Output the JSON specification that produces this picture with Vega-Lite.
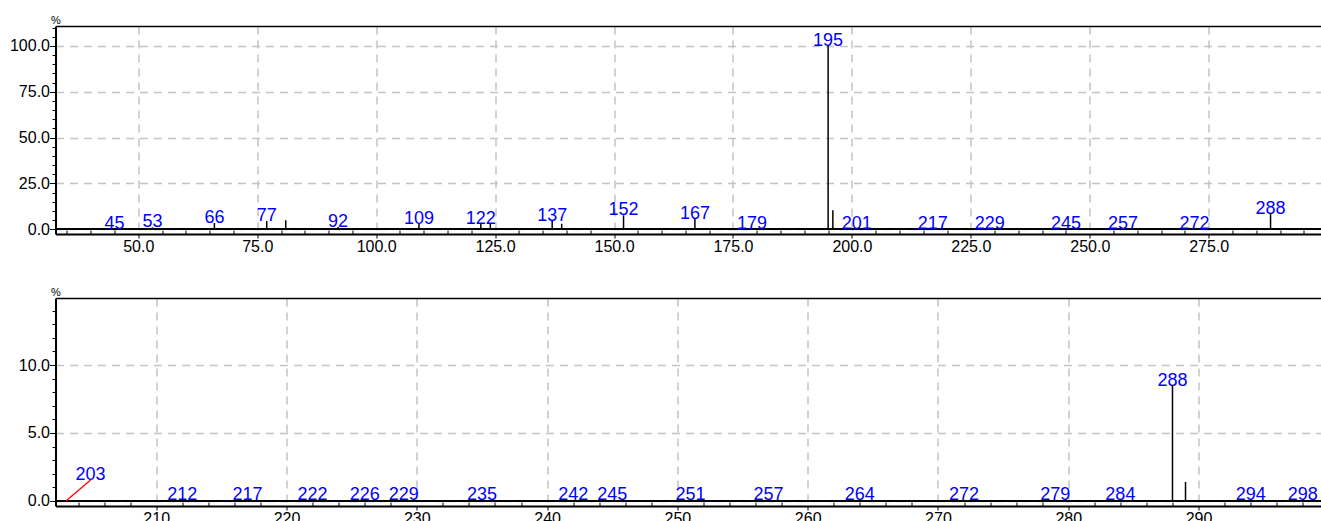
{
  "$schema": "https://vega.github.io/schema/vega-lite/v6.json",
  "padding": {"left": 8.5, "top": 14, "right": 0, "bottom": 0},
  "spacing": 64,
  "bounds": "flush",
  "config": {
    "view": {"stroke": null},
    "font": "Liberation Sans",
    "axis": {
      "labelFont": "Liberation Sans",
      "titleFont": "Liberation Sans",
      "labelColor": "#000000",
      "tickColor": "#000000",
      "domainColor": "#000000",
      "gridColor": "#c4c4c4",
      "gridDash": [8, 6],
      "gridWidth": 1.5,
      "labelFontSize": 16,
      "labelFlush": false,
      "labelOverlap": false
    }
  },
  "datasets": {
    "top": [
      {"mz": 45, "intensity": 0.2, "label": "45"},
      {"mz": 53, "intensity": 1.0, "label": "53"},
      {"mz": 66, "intensity": 3.4, "label": "66"},
      {"mz": 77, "intensity": 4.5, "label": "77"},
      {"mz": 81, "intensity": 4.9, "label": null},
      {"mz": 92, "intensity": 1.2, "label": "92"},
      {"mz": 109, "intensity": 3.1, "label": "109"},
      {"mz": 122, "intensity": 3.0, "label": "122"},
      {"mz": 124, "intensity": 3.0, "label": null},
      {"mz": 137, "intensity": 4.5, "label": "137"},
      {"mz": 139, "intensity": 3.0, "label": null},
      {"mz": 152, "intensity": 7.6, "label": "152"},
      {"mz": 167, "intensity": 5.8, "label": "167"},
      {"mz": 179, "intensity": 0.2, "label": "179"},
      {"mz": 195, "intensity": 100, "label": "195"},
      {"mz": 196, "intensity": 10.3, "label": null},
      {"mz": 201, "intensity": 0.2, "label": "201"},
      {"mz": 217, "intensity": 0.2, "label": "217"},
      {"mz": 229, "intensity": 0.2, "label": "229"},
      {"mz": 245, "intensity": 0.2, "label": "245"},
      {"mz": 257, "intensity": 0.2, "label": "257"},
      {"mz": 272, "intensity": 0.2, "label": "272"},
      {"mz": 288, "intensity": 8.4, "label": "288"}
    ],
    "bottom": [
      {"mz": 203, "intensity": 0.0, "label": null},
      {"mz": 212, "intensity": 0.05, "label": "212"},
      {"mz": 217, "intensity": 0.05, "label": "217"},
      {"mz": 222, "intensity": 0.05, "label": "222"},
      {"mz": 226, "intensity": 0.05, "label": "226"},
      {"mz": 229, "intensity": 0.05, "label": "229"},
      {"mz": 235, "intensity": 0.05, "label": "235"},
      {"mz": 242, "intensity": 0.05, "label": "242"},
      {"mz": 245, "intensity": 0.05, "label": "245"},
      {"mz": 251, "intensity": 0.05, "label": "251"},
      {"mz": 257, "intensity": 0.05, "label": "257"},
      {"mz": 264, "intensity": 0.05, "label": "264"},
      {"mz": 272, "intensity": 0.05, "label": "272"},
      {"mz": 279, "intensity": 0.05, "label": "279"},
      {"mz": 284, "intensity": 0.05, "label": "284"},
      {"mz": 288, "intensity": 8.46, "label": "288"},
      {"mz": 289, "intensity": 1.4, "label": null},
      {"mz": 294, "intensity": 0.05, "label": "294"},
      {"mz": 298, "intensity": 0.05, "label": "298"}
    ],
    "lead": [
      {"x": 203.07, "y": 0, "x2": 204.96, "y2": 1.54, "label": "203"}
    ]
  },
  "vconcat": [
    {
      "width": 1265,
      "height": 208,
      "data": {"name": "top"},
      "resolve": {"axis": {"x": "independent", "y": "independent"}},
      "layer": [
        {
          "mark": {"type": "rule", "color": "#000000", "strokeWidth": 1.5},
          "encoding": {
            "x": {
              "field": "mz", "type": "quantitative",
              "scale": {"domain": [32.6, 298.5], "nice": false, "zero": false},
              "axis": {"orient": "bottom", "values": [50, 75, 100, 125, 150, 175, 200, 225, 250, 275], "format": ".1f", "grid": true, "tickSize": 4, "domainWidth": 2, "labelPadding": 0, "title": null}
            },
            "y": {
              "field": "intensity", "type": "quantitative",
              "scale": {"domain": [-2.6, 110.9], "nice": false, "zero": false},
              "axis": {"orient": "left", "values": [0, 25, 50, 75, 100], "format": ".1f", "grid": true, "tickSize": 6, "domainWidth": 2, "labelPadding": 0, "title": "%", "titleAngle": 0, "titleX": 0, "titleY": -3, "titleAlign": "center", "titleBaseline": "alphabetic", "titleFontSize": 11, "titleFontWeight": "normal", "titleColor": "#000000"}
            },
            "y2": {"datum": 0}
          }
        },
        {
          "mark": {"type": "rule", "color": "#000000", "strokeWidth": 1.5},
          "encoding": {"y": {"datum": 0, "type": "quantitative", "axis": null}}
        },
        {
          "transform": [{"filter": "datum.label != null"}],
          "mark": {"type": "text", "color": "#0000ff", "fontSize": 18, "align": "center", "baseline": "alphabetic", "font": "Liberation Sans"},
          "encoding": {
            "x": {"field": "mz", "type": "quantitative", "axis": {"orient": "bottom", "values": [35, 40, 45, 55, 60, 65, 70, 80, 85, 90, 95, 105, 110, 115, 120, 130, 135, 140, 145, 155, 160, 165, 170, 180, 185, 190, 195, 205, 210, 215, 220, 230, 235, 240, 245, 255, 260, 265, 270, 280, 285, 290, 295], "labels": false, "grid": false, "domain": false, "tickSize": -4, "title": null}},
            "y": {"field": "intensity", "type": "quantitative", "axis": {"orient": "left", "values": [5, 10, 15, 20, 30, 35, 40, 45, 55, 60, 65, 70, 80, 85, 90, 95, 105, 110], "labels": false, "grid": false, "domain": false, "tickSize": 3.5, "title": null}},
            "text": {"field": "label"}
          }
        },
        {
          "mark": {"type": "point", "opacity": 0},
          "encoding": {
            "x": {"field": "mz", "type": "quantitative", "axis": {"orient": "top", "labels": false, "ticks": false, "grid": false, "domain": true, "domainWidth": 1.5, "title": null}},
            "y": {"field": "intensity", "type": "quantitative", "axis": null}
          }
        }
      ]
    },
    {
      "width": 1265,
      "height": 208,
      "data": {"name": "bottom"},
      "resolve": {"axis": {"x": "independent", "y": "independent"}},
      "layer": [
        {
          "mark": {"type": "rule", "color": "#000000", "strokeWidth": 1.5},
          "encoding": {
            "x": {
              "field": "mz", "type": "quantitative",
              "scale": {"domain": [202.27, 299.36], "nice": false, "zero": false},
              "axis": {"orient": "bottom", "values": [210, 220, 230, 240, 250, 260, 270, 280, 290], "format": "d", "grid": true, "tickSize": 4, "domainWidth": 2, "labelPadding": 0, "title": null}
            },
            "y": {
              "field": "intensity", "type": "quantitative",
              "scale": {"domain": [-0.37, 14.93], "nice": false, "zero": false},
              "axis": {"orient": "left", "values": [0, 5, 10], "format": ".1f", "grid": true, "tickSize": 6, "domainWidth": 2, "labelPadding": 0, "title": "%", "titleAngle": 0, "titleX": 0, "titleY": -3, "titleAlign": "center", "titleBaseline": "alphabetic", "titleFontSize": 11, "titleFontWeight": "normal", "titleColor": "#000000"}
            },
            "y2": {"datum": 0}
          }
        },
        {
          "mark": {"type": "rule", "color": "#000000", "strokeWidth": 2},
          "encoding": {"y": {"datum": 0, "type": "quantitative", "axis": null}}
        },
        {
          "transform": [{"filter": "datum.label != null"}],
          "mark": {"type": "text", "color": "#0000ff", "fontSize": 18, "align": "center", "baseline": "alphabetic", "font": "Liberation Sans"},
          "encoding": {
            "x": {"field": "mz", "type": "quantitative", "axis": {"orient": "bottom", "values": [204, 206, 208, 212, 214, 216, 218, 222, 224, 226, 228, 232, 234, 236, 238, 242, 244, 246, 248, 252, 254, 256, 258, 262, 264, 266, 268, 272, 274, 276, 278, 282, 284, 286, 288, 292, 294, 296, 298], "labels": false, "grid": false, "domain": false, "tickSize": -4, "title": null}},
            "y": {"field": "intensity", "type": "quantitative", "axis": {"orient": "left", "values": [1, 2, 3, 4, 6, 7, 8, 9, 11, 12, 13, 14], "labels": false, "grid": false, "domain": false, "tickSize": 3.5, "title": null}},
            "text": {"field": "label"}
          }
        },
        {
          "mark": {"type": "point", "opacity": 0},
          "encoding": {
            "x": {"field": "mz", "type": "quantitative", "axis": {"orient": "top", "labels": false, "ticks": false, "grid": false, "domain": true, "domainWidth": 1.5, "title": null}},
            "y": {"field": "intensity", "type": "quantitative", "axis": null}
          }
        },
        {
          "data": {"name": "lead"},
          "mark": {"type": "rule", "color": "#ff0000", "strokeWidth": 1.3},
          "encoding": {
            "x": {"field": "x", "type": "quantitative", "axis": null},
            "y": {"field": "y", "type": "quantitative", "axis": null},
            "x2": {"field": "x2"},
            "y2": {"field": "y2"}
          }
        },
        {
          "data": {"name": "lead"},
          "mark": {"type": "text", "color": "#0000ff", "fontSize": 18, "align": "center", "baseline": "alphabetic", "font": "Liberation Sans"},
          "encoding": {
            "x": {"field": "x2", "type": "quantitative", "axis": null},
            "y": {"field": "y2", "type": "quantitative", "axis": null},
            "text": {"field": "label"}
          }
        }
      ]
    }
  ]
}
